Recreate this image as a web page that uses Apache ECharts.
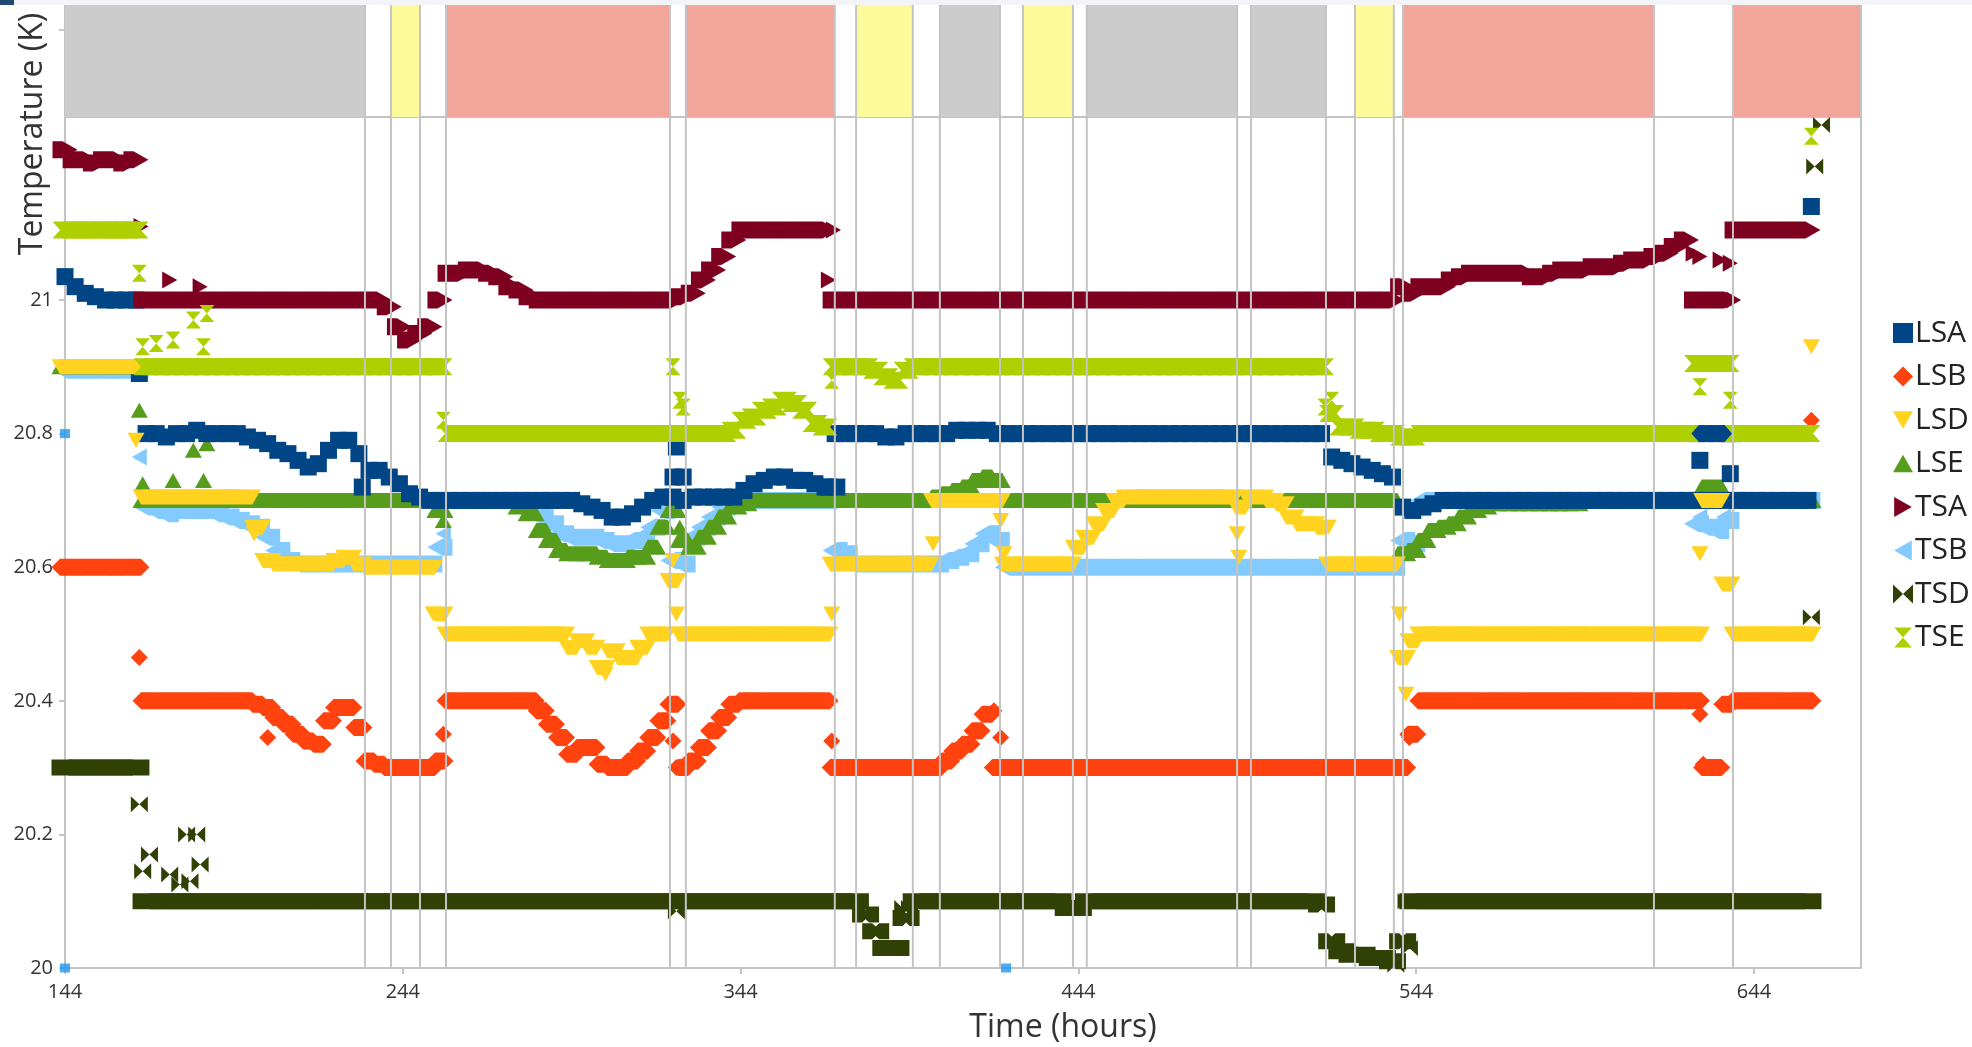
<!DOCTYPE html>
<html>
<head>
<meta charset="utf-8">
<title>Temperature vs time</title>
<script src="https://cdn.jsdelivr.net/npm/echarts@6/dist/echarts.min.js"></script>
<style>
  html, body { margin: 0; padding: 0; background: #ffffff; }
  #chart { width: 1972px; height: 1047px; }
</style>
</head>
<body>
<div id="chart"></div>
<script>
// Sampling times (hours), shared by all eight sensor series
const hours = [
  144,147,150,153,156,159,162,165,168,171,
  174,177,180,183,186,189,192,195,198,201,
  204,207,210,213,216,219,222,225,228,231,
  234,237,240,243,246,249,252,255,258,261,
  264,267,270,273,276,279,282,285,288,291,
  294,297,300,303,306,309,312,315,318,321,
  324,327,330,333,336,339,342,345,348,351,
  354,357,360,363,366,369,372,375,378,381,
  384,387,390,393,396,399,402,405,408,411,
  414,417,420,423,426,429,432,435,438,441,
  444,447,450,453,456,459,462,465,468,471,
  474,477,480,483,486,489,492,495,498,501,
  504,507,510,513,516,519,522,525,528,531,
  534,537,540,543,546,549,552,555,558,561,
  564,567,570,573,576,579,582,585,588,591,
  594,597,600,603,606,609,612,615,618,621,
  624,627,630,633,636,639,642,645,648,651,
  654,657,660
];

// Temperatures (K) at each sampling time
const LSA = [
  21.035,21.02,21.01,21.005,21,21,21,21,20.8,20.8,
  20.795,20.8,20.8,20.805,20.8,20.8,20.8,20.8,20.795,20.79,
  20.785,20.775,20.77,20.76,20.75,20.755,20.775,20.79,20.79,20.77,
  20.745,20.745,20.735,20.725,20.71,20.705,20.7,20.7,20.7,20.7,
  20.7,20.7,20.7,20.7,20.7,20.7,20.7,20.7,20.7,20.7,
  20.7,20.695,20.69,20.685,20.675,20.675,20.68,20.69,20.7,20.705,
  20.705,20.7,20.705,20.705,20.705,20.705,20.705,20.715,20.725,20.73,
  20.735,20.735,20.73,20.73,20.725,20.72,20.8,20.8,20.8,20.8,
  20.8,20.795,20.795,20.8,20.8,20.8,20.8,20.8,20.805,20.805,
  20.805,20.805,20.8,20.8,20.8,20.8,20.8,20.8,20.8,20.8,
  20.8,20.8,20.8,20.8,20.8,20.8,20.8,20.8,20.8,20.8,
  20.8,20.8,20.8,20.8,20.8,20.8,20.8,20.8,20.8,20.8,
  20.8,20.8,20.8,20.8,20.8,20.765,20.76,20.755,20.75,20.745,
  20.74,20.735,20.69,20.685,20.69,20.695,20.7,20.7,20.7,20.7,
  20.7,20.7,20.7,20.7,20.7,20.7,20.7,20.7,20.7,20.7,
  20.7,20.7,20.7,20.7,20.7,20.7,20.7,20.7,20.7,20.7,
  20.7,20.7,20.7,20.7,20.7,20.7,20.7,20.7,20.7,20.7,
  20.7,20.7,20.7
];
const LSB = [
  20.6,20.6,20.6,20.6,20.6,20.6,20.6,20.6,20.4,20.4,
  20.4,20.4,20.4,20.4,20.4,20.4,20.4,20.4,20.4,20.395,
  20.39,20.375,20.365,20.35,20.34,20.335,20.37,20.39,20.39,20.36,
  20.31,20.305,20.3,20.3,20.3,20.3,20.3,20.31,20.4,20.4,
  20.4,20.4,20.4,20.4,20.4,20.4,20.4,20.385,20.365,20.345,
  20.32,20.33,20.33,20.305,20.3,20.3,20.31,20.325,20.345,20.37,
  20.395,20.3,20.31,20.33,20.355,20.375,20.395,20.4,20.4,20.4,
  20.4,20.4,20.4,20.4,20.4,20.4,20.3,20.3,20.3,20.3,
  20.3,20.3,20.3,20.3,20.3,20.3,20.3,20.31,20.325,20.335,
  20.355,20.38,20.3,20.3,20.3,20.3,20.3,20.3,20.3,20.3,
  20.3,20.3,20.3,20.3,20.3,20.3,20.3,20.3,20.3,20.3,
  20.3,20.3,20.3,20.3,20.3,20.3,20.3,20.3,20.3,20.3,
  20.3,20.3,20.3,20.3,20.3,20.3,20.3,20.3,20.3,20.3,
  20.3,20.3,20.3,20.35,20.4,20.4,20.4,20.4,20.4,20.4,
  20.4,20.4,20.4,20.4,20.4,20.4,20.4,20.4,20.4,20.4,
  20.4,20.4,20.4,20.4,20.4,20.4,20.4,20.4,20.4,20.4,
  20.4,20.4,20.3,20.3,20.395,20.4,20.4,20.4,20.4,20.4,
  20.4,20.4,20.4
];
const LSD = [
  20.9,20.9,20.9,20.9,20.9,20.9,20.9,20.9,20.705,20.705,
  20.705,20.705,20.705,20.705,20.705,20.705,20.705,20.705,20.705,20.66,
  20.61,20.605,20.605,20.605,20.605,20.605,20.605,20.61,20.615,20.605,
  20.6,20.6,20.6,20.6,20.6,20.6,20.6,20.53,20.5,20.5,
  20.5,20.5,20.5,20.5,20.5,20.5,20.5,20.5,20.5,20.5,
  20.48,20.49,20.48,20.45,20.475,20.465,20.465,20.48,20.5,20.5,
  20.58,20.5,20.5,20.5,20.5,20.5,20.5,20.5,20.5,20.5,
  20.5,20.5,20.5,20.5,20.5,20.5,20.605,20.605,20.605,20.605,
  20.605,20.605,20.605,20.605,20.605,20.605,20.7,20.7,20.7,20.7,
  20.7,20.7,20.7,20.605,20.605,20.605,20.605,20.605,20.605,20.605,
  20.63,20.645,20.665,20.685,20.7,20.705,20.705,20.705,20.705,20.705,
  20.705,20.705,20.705,20.705,20.705,20.705,20.69,20.705,20.705,20.7,
  20.695,20.675,20.665,20.665,20.66,20.605,20.605,20.605,20.605,20.605,
  20.605,20.605,20.465,20.49,20.5,20.5,20.5,20.5,20.5,20.5,
  20.5,20.5,20.5,20.5,20.5,20.5,20.5,20.5,20.5,20.5,
  20.5,20.5,20.5,20.5,20.5,20.5,20.5,20.5,20.5,20.5,
  20.5,20.5,20.7,20.7,20.575,20.5,20.5,20.5,20.5,20.5,
  20.5,20.5,20.5
];
const LSE = [
  20.9,20.9,20.9,20.9,20.9,20.9,20.9,20.9,20.7,20.7,
  20.7,20.7,20.7,20.7,20.7,20.7,20.7,20.7,20.7,20.7,
  20.7,20.7,20.7,20.7,20.7,20.7,20.7,20.7,20.7,20.7,
  20.7,20.7,20.7,20.7,20.7,20.7,20.7,20.685,20.7,20.7,
  20.7,20.7,20.7,20.7,20.7,20.69,20.68,20.655,20.64,20.625,
  20.62,20.62,20.62,20.615,20.61,20.61,20.615,20.615,20.63,20.66,
  20.685,20.64,20.63,20.645,20.66,20.675,20.69,20.695,20.7,20.7,
  20.7,20.7,20.7,20.7,20.7,20.7,20.7,20.7,20.7,20.7,
  20.7,20.7,20.7,20.7,20.7,20.7,20.705,20.71,20.715,20.72,
  20.73,20.735,20.73,20.7,20.7,20.7,20.7,20.7,20.7,20.7,
  20.7,20.7,20.7,20.7,20.7,20.7,20.7,20.7,20.7,20.7,
  20.7,20.7,20.7,20.7,20.7,20.7,20.7,20.7,20.7,20.7,
  20.7,20.7,20.7,20.7,20.7,20.7,20.7,20.7,20.7,20.7,
  20.7,20.7,20.62,20.625,20.64,20.655,20.66,20.665,20.675,20.685,
  20.69,20.695,20.695,20.695,20.695,20.695,20.695,20.695,20.695,20.695,
  20.7,20.7,20.7,20.7,20.7,20.7,20.7,20.7,20.7,20.7,
  20.7,20.7,20.72,20.72,20.7,20.7,20.7,20.7,20.7,20.7,
  20.7,20.7,20.7
];
const TSA = [
  21.225,21.21,21.21,21.205,21.21,21.21,21.205,21.21,21,21,
  21,21,21,21,21,21,21,21,21,21,
  21,21,21,21,21,21,21,21,21,21,
  21,21,20.99,20.96,20.94,20.95,20.96,21,21.04,21.04,
  21.045,21.045,21.04,21.035,21.02,21.015,21.005,21,21,21,
  21,21,21,21,21,21,21,21,21,21,
  21,21.005,21.01,21.03,21.045,21.065,21.09,21.105,21.105,21.105,
  21.105,21.105,21.105,21.105,21.105,21.105,21,21,21,21,
  21,21,21,21,21,21,21,21,21,21,
  21,21,21,21,21,21,21,21,21,21,
  21,21,21,21,21,21,21,21,21,21,
  21,21,21,21,21,21,21,21,21,21,
  21,21,21,21,21,21,21,21,21,21,
  21,21,21.02,21.01,21.02,21.02,21.02,21.03,21.035,21.04,
  21.04,21.04,21.04,21.04,21.04,21.035,21.035,21.04,21.045,21.045,
  21.045,21.05,21.05,21.05,21.055,21.06,21.06,21.065,21.07,21.08,
  21.09,21,21,21,21,21.105,21.105,21.105,21.105,21.105,
  21.105,21.105,21.105
];
const TSB = [
  20.895,20.895,20.895,20.895,20.895,20.895,20.895,20.895,20.69,20.685,
  20.68,20.685,20.685,20.685,20.685,20.68,20.675,20.67,20.665,20.66,
  20.645,20.625,20.61,20.605,20.605,20.605,20.605,20.605,20.605,20.605,
  20.605,20.605,20.605,20.605,20.605,20.605,20.605,20.63,20.7,20.7,
  20.7,20.7,20.7,20.7,20.7,20.7,20.69,20.675,20.665,20.65,
  20.645,20.645,20.645,20.64,20.635,20.635,20.64,20.645,20.66,20.685,
  20.61,20.605,20.645,20.66,20.675,20.69,20.7,20.7,20.7,20.7,
  20.7,20.7,20.7,20.7,20.7,20.7,20.625,20.62,20.605,20.605,
  20.605,20.605,20.605,20.605,20.605,20.605,20.605,20.61,20.615,20.62,
  20.635,20.65,20.64,20.6,20.6,20.6,20.6,20.6,20.6,20.6,
  20.6,20.6,20.6,20.6,20.6,20.6,20.6,20.6,20.6,20.6,
  20.6,20.6,20.6,20.6,20.6,20.6,20.6,20.6,20.6,20.6,
  20.6,20.6,20.6,20.6,20.6,20.6,20.6,20.6,20.6,20.6,
  20.6,20.6,20.64,20.635,20.7,20.7,20.7,20.7,20.7,20.7,
  20.7,20.7,20.7,20.7,20.7,20.7,20.7,20.7,20.7,20.7,
  20.7,20.7,20.7,20.7,20.7,20.7,20.7,20.7,20.7,20.7,
  20.7,20.665,20.66,20.655,20.67,20.7,20.7,20.7,20.7,20.7,
  20.7,20.7,20.7
];
const TSD = [
  20.3,20.3,20.3,20.3,20.3,20.3,20.3,20.3,20.1,20.1,
  20.1,20.1,20.1,20.1,20.1,20.1,20.1,20.1,20.1,20.1,
  20.1,20.1,20.1,20.1,20.1,20.1,20.1,20.1,20.1,20.1,
  20.1,20.1,20.1,20.1,20.1,20.1,20.1,20.1,20.1,20.1,
  20.1,20.1,20.1,20.1,20.1,20.1,20.1,20.1,20.1,20.1,
  20.1,20.1,20.1,20.1,20.1,20.1,20.1,20.1,20.1,20.1,
  20.1,20.1,20.1,20.1,20.1,20.1,20.1,20.1,20.1,20.1,
  20.1,20.1,20.1,20.1,20.1,20.1,20.1,20.1,20.1,20.08,
  20.055,20.03,20.03,20.075,20.1,20.1,20.1,20.1,20.1,20.1,
  20.1,20.1,20.1,20.1,20.1,20.1,20.1,20.1,20.1,20.09,
  20.09,20.1,20.1,20.1,20.1,20.1,20.1,20.1,20.1,20.1,
  20.1,20.1,20.1,20.1,20.1,20.1,20.1,20.1,20.1,20.1,
  20.1,20.1,20.1,20.1,20.095,20.04,20.025,20.02,20.02,20.015,
  20.015,20.01,20.04,20.1,20.1,20.1,20.1,20.1,20.1,20.1,
  20.1,20.1,20.1,20.1,20.1,20.1,20.1,20.1,20.1,20.1,
  20.1,20.1,20.1,20.1,20.1,20.1,20.1,20.1,20.1,20.1,
  20.1,20.1,20.1,20.1,20.1,20.1,20.1,20.1,20.1,20.1,
  20.1,20.1,20.1
];
const TSE = [
  21.105,21.105,21.105,21.105,21.105,21.105,21.105,21.105,20.9,20.9,
  20.9,20.9,20.9,20.9,20.9,20.9,20.9,20.9,20.9,20.9,
  20.9,20.9,20.9,20.9,20.9,20.9,20.9,20.9,20.9,20.9,
  20.9,20.9,20.9,20.9,20.9,20.9,20.9,20.9,20.8,20.8,
  20.8,20.8,20.8,20.8,20.8,20.8,20.8,20.8,20.8,20.8,
  20.8,20.8,20.8,20.8,20.8,20.8,20.8,20.8,20.8,20.8,
  20.8,20.8,20.8,20.8,20.8,20.8,20.805,20.82,20.825,20.835,
  20.84,20.85,20.845,20.835,20.815,20.81,20.9,20.9,20.9,20.9,
  20.895,20.885,20.88,20.895,20.9,20.9,20.9,20.9,20.9,20.9,
  20.9,20.9,20.9,20.9,20.9,20.9,20.9,20.9,20.9,20.9,
  20.9,20.9,20.9,20.9,20.9,20.9,20.9,20.9,20.9,20.9,
  20.9,20.9,20.9,20.9,20.9,20.9,20.9,20.9,20.9,20.9,
  20.9,20.9,20.9,20.9,20.9,20.83,20.81,20.81,20.805,20.805,
  20.8,20.8,20.795,20.795,20.8,20.8,20.8,20.8,20.8,20.8,
  20.8,20.8,20.8,20.8,20.8,20.8,20.8,20.8,20.8,20.8,
  20.8,20.8,20.8,20.8,20.8,20.8,20.8,20.8,20.8,20.8,
  20.8,20.905,20.905,20.905,20.905,20.8,20.8,20.8,20.8,20.8,
  20.8,20.8,20.8
];

// Off-grid readings [hour, K] recorded around switching events
const LSA_extra = [[166,20.89],[232,20.72],[324,20.735],[325,20.78],[327,20.735],[370,20.72],[372.5,20.72],
  [627,20.8],[630,20.8],[633,20.8],[636,20.8],[638,20.8],[628,20.76],[637,20.74],[661,21.14]];
const LSB_extra = [[166,20.465],[204,20.345],[256,20.35],[324,20.34],[325,20.3],[371,20.34],[419,20.385],
  [421,20.345],[542,20.345],[628,20.38],[629,20.305],[661,20.82]];
const LSD_extra = [[165,20.79],[200,20.65],[253,20.53],[304,20.44],[324,20.61],[325,20.53],[371,20.53],
  [401,20.635],[421,20.67],[422,20.62],[491,20.65],[491.5,20.615],[518,20.66],[539,20.53],[541,20.41],
  [628,20.62],[661,20.93]];
const LSE_extra = [[166,20.835],[167,20.725],[176,20.73],[185,20.73],[182,20.775],[186,20.785],[256,20.67],[326,20.66]];
const TSA_extra = [[166.5,21.11],[175,21.03],[184,21.02],[370,21.03],[371.5,21.105],[626,21.07],[628,21.065],
  [634,21.06],[637,21.055],[638,21.0]];
const TSB_extra = [[166,20.765],[256,20.65],[371,20.625],[628,20.675],[635,20.675]];
const TSD_extra = [[166,20.245],[167,20.145],[169,20.17],[175,20.14],[178,20.125],[181,20.13],[180,20.2],
  [183,20.2],[184,20.155],[325,20.085],[392,20.09],[394,20.09],[538,20.005],[539,20.04],[541,20.1],
  [542,20.03],[661,20.525],[662,21.2],[664,21.262]];
const TSE_extra = [[166,21.04],[167,20.93],[171,20.935],[176,20.94],[182,20.97],[186,20.98],[185,20.93],
  [256,20.82],[324,20.9],[326,20.85],[327,20.84],[371,20.88],[517,20.84],[519,20.85],[628,20.87],
  [637,20.85],[661,21.245]];

// Stray reference readings (no legend entry)
const refPoints = [[144,20.8],[144,20.0],[422.6,20.0]];

// Operating phases shown in the strip above the plot
const bandStart = [144, 240.5, 256.8, 327.8, 378.2, 403.0, 427.6, 446.5, 495.1, 525.9, 540.1, 637.8];
const bandEnd   = [232.8, 249.1, 323.1, 371.9, 395.0, 420.8, 442.4, 491.0, 517.3, 537.4, 614.4, 675.7];
const bandKind  = ['off','warm','hot','hot','warm','off','warm','off','off','warm','hot','hot'];

const xTicks = [144, 244, 344, 444, 544, 644];
const yTicks = [20, 20.2, 20.4, 20.6, 20.8, 21];
const X_MIN = 144, X_MAX = 675.7, Y_MIN = 20, Y_MAX = 21.274;

// ---- styling ----
const FONT = '"Open Sans", "DejaVu Sans", sans-serif';
const phaseColors = { off: '#cccccc', warm: '#fdfa9b', hot: '#f2a69b' };
const gridLineColor = '#c4c4c4';

// `mark` is the single-reading marker (also the legend icon);
// `run` is the same marker stretched over one 3-hour sampling step so
// consecutive readings merge into a continuous trace.
const styles = {
  LSA: { color: '#004586', z: 4,
    mark: 'rect', markSize: [17, 17],
    run: 'rect', runSize: [17, 17] },
  LSB: { color: '#ff420e', z: 5,
    mark: 'diamond', markSize: [17, 17],
    run: 'path://M0,8.5 L8.5,0 L18.5,0 L27,8.5 L18.5,17 L8.5,17 Z', runSize: [27, 17] },
  LSD: { color: '#ffd320', z: 5,
    mark: 'path://M0,0 L17,0 L8.5,15 Z', markSize: [17, 15],
    run: 'path://M0,0 L27,0 L18.5,15 L8.5,15 Z', runSize: [27, 15] },
  LSE: { color: '#579d1c', z: 3,
    mark: 'path://M8.5,0 L17,15 L0,15 Z', markSize: [17, 15],
    run: 'path://M8.5,0 L18.5,0 L27,15 L0,15 Z', runSize: [27, 15] },
  TSA: { color: '#7e0021', z: 5,
    mark: 'path://M0,0 L15,8.5 L0,17 Z', markSize: [15, 17],
    run: 'path://M0,0 L10,0 L25,8.5 L10,17 L0,17 Z', runSize: [25, 17] },
  TSB: { color: '#83caff', z: 2,
    mark: 'path://M15,0 L0,8.5 L15,17 Z', markSize: [15, 17],
    run: 'path://M15,0 L25,0 L25,17 L15,17 L0,8.5 Z', runSize: [25, 17] },
  TSD: { color: '#314004', z: 5,
    mark: 'path://M0,0 L8.5,8 L0,16 Z M17,0 L8.5,8 L17,16 Z', markSize: [17, 16],
    run: 'path://M0,0 L10,0 L13.5,3.3 L17,0 L27,0 L27,16 L17,16 L13.5,12.7 L10,16 L0,16 Z', runSize: [27, 16] },
  TSE: { color: '#aecf00', z: 5,
    mark: 'path://M0,0 L15,0 L7.5,8.5 Z M0,17 L15,17 L7.5,8.5 Z', markSize: [15, 17],
    run: 'path://M0,0 L25,0 L17.5,8.5 L25,17 L0,17 L7.5,8.5 Z', runSize: [25, 17] }
};

const values = { LSA, LSB, LSD, LSE, TSA, TSB, TSD, TSE };
const extras = { LSA: LSA_extra, LSB: LSB_extra, LSD: LSD_extra, LSE: LSE_extra,
                 TSA: TSA_extra, TSB: TSB_extra, TSD: TSD_extra, TSE: TSE_extra };
const names = ['LSA', 'LSB', 'LSD', 'LSE', 'TSA', 'TSB', 'TSD', 'TSE'];

const sensorSeries = names.map(name => {
  const st = styles[name];
  const sampled = hours.map((h, i) => [h, values[name][i]]);
  const singles = extras[name].map(p => ({ value: p, symbol: st.mark, symbolSize: st.markSize }));
  return {
    name,
    type: 'scatter',
    xAxisIndex: 1,
    yAxisIndex: 1,
    symbol: st.run,
    symbolSize: st.runSize,
    z: st.z,
    itemStyle: { color: st.color, opacity: 1 },
    emphasis: { disabled: true },
    data: sampled.concat(singles)
  };
});

const boundaries = [];
bandStart.forEach((s, i) => { if (s > X_MIN) boundaries.push([s]); boundaries.push([bandEnd[i]]); });

function boundaryLines(yLo, yHi) {
  return (params, api) => {
    const top = api.coord([api.value(0), yHi]);
    const bot = api.coord([api.value(0), yLo]);
    return {
      type: 'line',
      shape: { x1: top[0], y1: top[1], x2: bot[0], y2: bot[1] },
      style: { stroke: gridLineColor, lineWidth: 2 }
    };
  };
}

const chart = echarts.init(document.getElementById('chart'), null, { renderer: 'canvas' });

chart.setOption({
  animation: false,
  backgroundColor: '#ffffff',
  textStyle: { fontFamily: FONT },
  grid: [
    { left: 65, width: 1796, top: 5, height: 112 },
    { left: 65, width: 1796, top: 117, height: 851 }
  ],
  xAxis: [
    {
      gridIndex: 0, type: 'value', min: X_MIN, max: X_MAX,
      axisLine: { show: true, lineStyle: { color: gridLineColor, width: 2 } },
      axisTick: { show: false }, axisLabel: { show: false }, splitLine: { show: false }
    },
    {
      gridIndex: 1, type: 'value', min: X_MIN, max: X_MAX,
      axisLine: { show: true, onZero: false, lineStyle: { color: gridLineColor, width: 2 } },
      axisTick: { show: true, customValues: xTicks, length: 6, lineStyle: { color: gridLineColor, width: 2 } },
      axisLabel: { show: true, customValues: xTicks, margin: 14, fontSize: 20, color: '#333333', fontFamily: FONT },
      splitLine: { show: false }
    }
  ],
  yAxis: [
    {
      gridIndex: 0, type: 'value', min: 0, max: 1,
      axisLine: { show: true, lineStyle: { color: gridLineColor, width: 2 } },
      axisTick: { show: true, customValues: [0.777], length: 6, lineStyle: { color: gridLineColor, width: 2 } },
      axisLabel: { show: false }, splitLine: { show: false }
    },
    {
      gridIndex: 1, type: 'value', min: Y_MIN, max: Y_MAX,
      axisLine: { show: true, onZero: false, lineStyle: { color: gridLineColor, width: 2 } },
      axisTick: { show: true, customValues: yTicks, length: 6, lineStyle: { color: gridLineColor, width: 2 } },
      axisLabel: {
        show: true, customValues: yTicks, margin: 12, fontSize: 20, color: '#333333', fontFamily: FONT,
        formatter: v => String(+(+v).toFixed(1))
      },
      splitLine: { show: false }
    }
  ],
  legend: {
    orient: 'vertical',
    left: 1888,
    top: 313,
    itemWidth: 20,
    itemHeight: 20,
    itemGap: 13.5,
    data: names.map(n => ({ name: n, icon: styles[n].mark })),
    selectedMode: false,
    textStyle: { fontSize: 30, lineHeight: 30, color: '#222222', fontFamily: FONT, padding: [0, 0, 0, -3] }
  },
  series: [
    {
      type: 'custom',
      name: 'phases',
      xAxisIndex: 0, yAxisIndex: 0,
      silent: true, z: 1,
      encode: { x: [0, 1] },
      data: bandStart.map((s, i) => [s, bandEnd[i]]),
      renderItem: (params, api) => {
        const p0 = api.coord([api.value(0), 1]);
        const p1 = api.coord([api.value(1), 0]);
        return {
          type: 'rect',
          shape: { x: p0[0], y: p0[1], width: p1[0] - p0[0], height: p1[1] - p0[1] },
          style: { fill: phaseColors[bandKind[params.dataIndex]] }
        };
      }
    },
    {
      type: 'custom', name: 'phase-edges-top',
      xAxisIndex: 0, yAxisIndex: 0, silent: true, z: 3,
      encode: { x: 0 }, data: boundaries,
      renderItem: boundaryLines(0, 1)
    },
    ...sensorSeries,
    {
      name: 'ref', type: 'scatter', xAxisIndex: 1, yAxisIndex: 1,
      symbol: 'rect', symbolSize: [10, 9], z: 6,
      itemStyle: { color: '#1e96f0' }, emphasis: { disabled: true },
      data: refPoints
    },
    {
      type: 'custom', name: 'phase-edges',
      xAxisIndex: 1, yAxisIndex: 1, silent: true, z: 10,
      encode: { x: 0 }, data: boundaries,
      renderItem: boundaryLines(Y_MIN, Y_MAX)
    }
  ],
  graphic: [
    { type: 'rect', shape: { x: 0, y: 0, width: 1972, height: 5 }, style: { fill: '#f2f4f7' }, z: 100 },
    { type: 'rect', shape: { x: 0, y: 0, width: 14, height: 5 }, style: { fill: '#1f4a73' }, z: 101 },
    {
      type: 'text', x: 33, y: 134, rotation: Math.PI / 2,
      style: { text: 'Temperature (K)', fontSize: 32, fontFamily: FONT, fill: '#333333',
               align: 'center', verticalAlign: 'middle' }
    },
    {
      type: 'text', x: 1063, y: 1028,
      style: { text: 'Time (hours)', fontSize: 32, fontFamily: FONT, fill: '#333333',
               align: 'center', verticalAlign: 'middle' }
    }
  ]
});
</script>
</body>
</html>
